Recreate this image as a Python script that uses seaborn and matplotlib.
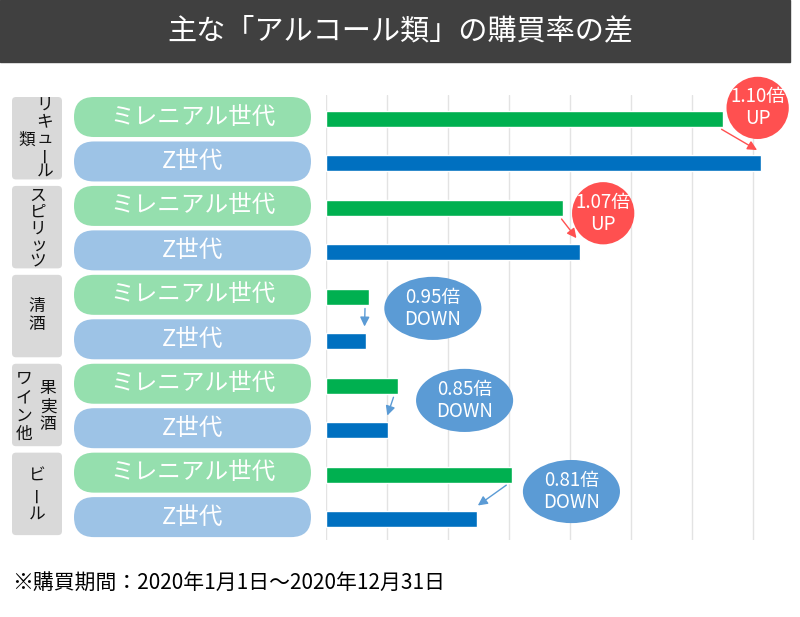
import numpy as np
import pandas as pd
import matplotlib
matplotlib.use("Agg")
import matplotlib.pyplot as plt
import seaborn as sns
from matplotlib.patches import FancyBboxPatch, Ellipse, Rectangle

# data
categories = ["リキュール類", "スピリッツ", "清酒", "果実酒ワイン他", "ビール"]
generations = ["ミレニアル世代", "Z世代"]
millennial = [6.50, 3.89, 0.70, 1.18, 3.05]
gen_z = [7.13, 4.16, 0.66, 1.02, 2.48]
ratio_text = ["1.10倍", "1.07倍", "0.95倍", "0.85倍", "0.81倍"]
trend = ["UP", "UP", "DOWN", "DOWN", "DOWN"]
grid_ticks = np.arange(0, 8)

title = "主な「アルコール類」の購買率の差"
footnote = "※購買期間：2020年1月1日～2020年12月31日"

# vertical category labels: (x px, text, first char y px, step px)
cat_columns = [
    [(45, "リキュール", 105, 16.5), (27, "類", 140, 0)],
    [(38, "スピリッツ", 196, 16.5)],
    [(37, "清酒", 306, 18)],
    [(24, "ワイン他", 379, 18.5), (48, "果実酒", 389, 18)],
    [(37, "ビール", 476, 19)],
]
# bubble centres in bar-axis units (x value, row)
bubble_pos = [(7.07, -0.25), (4.54, 2.12), (1.75, 4.26), (2.27, 6.33), (4.02, 8.38)]

colors = {"ミレニアル世代": "#00B050", "Z世代": "#0070C0"}
pill_colors = {"ミレニアル世代": "#95DFAE", "Z世代": "#9DC3E6"}

sns.set_style("white")
plt.rcParams["font.family"] = ["Noto Sans CJK JP", "DejaVu Sans"]

rows = []
for i, cat in enumerate(categories):
    rows.append({"row": f"{cat}_m", "gen": generations[0], "value": millennial[i]})
    rows.append({"row": f"{cat}_z", "gen": generations[1], "value": gen_z[i]})
df = pd.DataFrame(rows)

W, H = 800, 617
fig = plt.figure(figsize=(W / 100, H / 100), dpi=100)
bg = fig.add_axes([0, 0, 1, 1])
bg.set_xlim(0, W)
bg.set_ylim(H, 0)
bg.axis("off")

ax = fig.add_axes([326 / W, 1 - 540 / H, (790 - 326) / W, (540 - 95) / H])
ax.patch.set_alpha(0)
sns.barplot(data=df, x="value", y="row", hue="gen", palette=colors, dodge=False,
            width=0.36, orient="h", saturation=1, legend=False, ax=ax)
ax.set_xlim(0, 7.6)
ax.set_ylim(9.47, -0.54)
ax.set_xticks(grid_ticks)
ax.set_axisbelow(True)
ax.grid(axis="x", color="#E3E3E3", lw=1)
ax.grid(axis="y", visible=False)
ax.tick_params(length=0, labelbottom=False, labelleft=False)
ax.set_xlabel("")
ax.set_ylabel("")
for s in ax.spines.values():
    s.set_visible(False)

# pixel y (from top) of each bar row
def row_px(i):
    return H - ax.transData.transform((0, i))[1]

# title bar
bg.add_patch(Rectangle((0, 0), 790, 62, color="#404040"))
bg.text(400, 31, title, color="white", fontsize=21, ha="center", va="center")

# category boxes and pills
for g, cat in enumerate(categories):
    top = row_px(2 * g) - 22
    bot = row_px(2 * g + 1) + 16
    bg.add_patch(FancyBboxPatch((12, top), 50, bot - top,
                                boxstyle="round,pad=0,rounding_size=4",
                                fc="#D9D9D9", ec="none"))
    for x, txt, y0, step in cat_columns[g]:
        for k, ch in enumerate(txt):
            rot = 90 if ch == "ー" else 0
            bg.text(x, y0 + k * step, ch, fontsize=12, ha="center", va="center",
                    rotation=rot, color="#111111")
    for j, gen in enumerate(generations):
        yc = row_px(2 * g + j) - 2
        bg.add_patch(FancyBboxPatch((74, yc - 20), 237, 40,
                                    boxstyle="round,pad=0,rounding_size=20",
                                    fc=pill_colors[gen], ec="none"))
        bg.text(192.5, yc, gen, color="white", fontsize=17, ha="center", va="center")

# ratio bubbles and arrows
for g in range(len(categories)):
    up = trend[g] == "UP"
    col = "#FF5050" if up else "#5B9BD5"
    bx, by = bubble_pos[g]
    w, h = (1.02, 1.40) if up else (1.59, 1.42)
    ax.add_patch(Ellipse((bx, by), w, h, fc=col, ec="none", clip_on=False, zorder=4))
    ax.text(bx, by, f"{ratio_text[g]}\n{trend[g]}", color="white", fontsize=13.5,
            ha="center", va="center", linespacing=1.05, zorder=5, clip_on=False)
    ax.annotate("", xy=(gen_z[g] - 0.03, 2 * g + 1 - 0.27),
                xytext=(millennial[g] - 0.06, 2 * g + 0.2),
                arrowprops=dict(arrowstyle="-|>", color=col, lw=1, mutation_scale=14),
                zorder=3, annotation_clip=False)

bg.text(12, 583, footnote, fontsize=15, ha="left", va="center", color="black")

fig.savefig("out.png", dpi=100)
